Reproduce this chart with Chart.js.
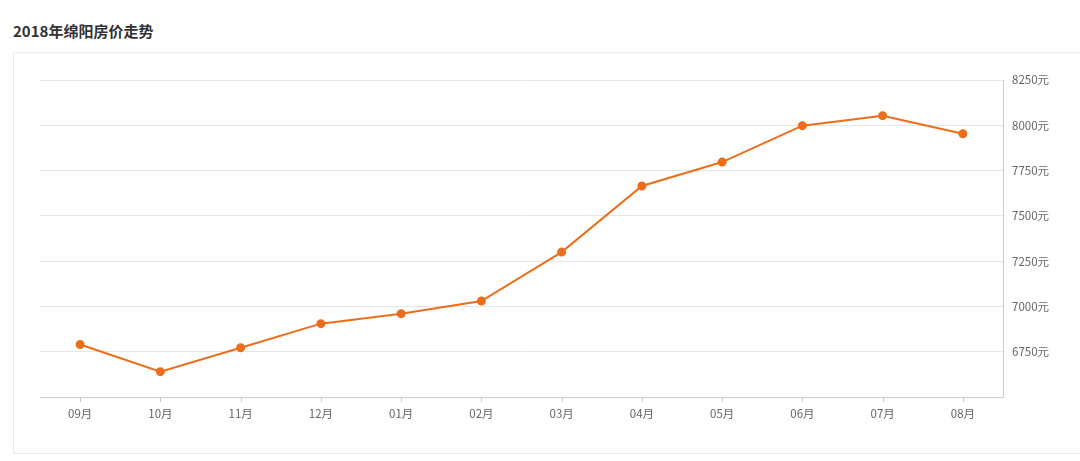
<!DOCTYPE html>
<html>
<head>
<meta charset="utf-8">
<script src="https://cdn.jsdelivr.net/npm/chart.js@4"></script>
<style>
  body { margin: 0; background: #fff; font-family: "Noto Sans CJK SC", sans-serif; }
  #title { position: absolute; left: 13px; top: 20px; font-size: 15px; font-weight: bold; color: #333; }
  #box { position: absolute; left: 13px; top: 52px; width: 1080px; height: 400px; border: 1px solid #ececec; }
  #wrap { position: absolute; left: 0; top: 0; width: 1080px; height: 461px; }
</style>
</head>
<body>
<div id="title">2018年绵阳房价走势</div>
<div id="box"></div>
<div id="wrap"><canvas id="myChart"></canvas></div>
<script>
const months = ['09月', '10月', '11月', '12月', '01月', '02月', '03月', '04月', '05月', '06月', '07月', '08月'];
const prices = [6790, 6640, 6772, 6905, 6960, 7030, 7300, 7665, 7797, 7998, 8053, 7953];

const ctx = document.getElementById('myChart');
new Chart(ctx, {
    type: 'line',
    data: {
        labels: months,
        datasets: [{
            data: prices,
            borderColor: '#ee6d1b',
            backgroundColor: '#ee6d1b',
            borderWidth: 2,
            pointRadius: 3.5,
            pointHoverRadius: 4,
            tension: 0
        }]
    },
    options: {
        responsive: true,
        maintainAspectRatio: false,
        animation: false,
        layout: { padding: { left: 40, top: 80, right: 0, bottom: 0 } },
        plugins: { legend: { display: false }, tooltip: { enabled: false } },
        scales: {
            x: {
                offset: true,
                afterFit: s => { s.height = 64; },
                grid: { display: false, drawTicks: false },
                border: { color: '#ccc' },
                ticks: { color: '#666', font: { size: 11.5, family: 'Noto Sans CJK SC' }, padding: 10 }
            },
            y: {
                position: 'right',
                min: 6500,
                max: 8250,
                afterFit: s => { s.width = 77; },
                grid: { color: '#e6e6e6', drawTicks: false },
                border: { color: '#ccc' },
                ticks: {
                    stepSize: 250,
                    padding: 9,
                    color: '#666',
                    font: { size: 11.5, family: 'Noto Sans CJK SC' },
                    callback: v => v === 6500 ? '' : v + '元'
                }
            }
        }
    },
    plugins: [{
        id: 'xticks',
        afterDraw(chart) {
            const c = chart.ctx, x = chart.scales.x, b = chart.chartArea.bottom;
            c.save();
            c.strokeStyle = '#ccc';
            c.lineWidth = 1;
            months.forEach((m, i) => {
                const px = Math.round(x.getPixelForValue(i)) + 0.5;
                c.beginPath(); c.moveTo(px, b); c.lineTo(px, b + 5); c.stroke();
            });
            c.restore();
        }
    }]
});
</script>
</body>
</html>
